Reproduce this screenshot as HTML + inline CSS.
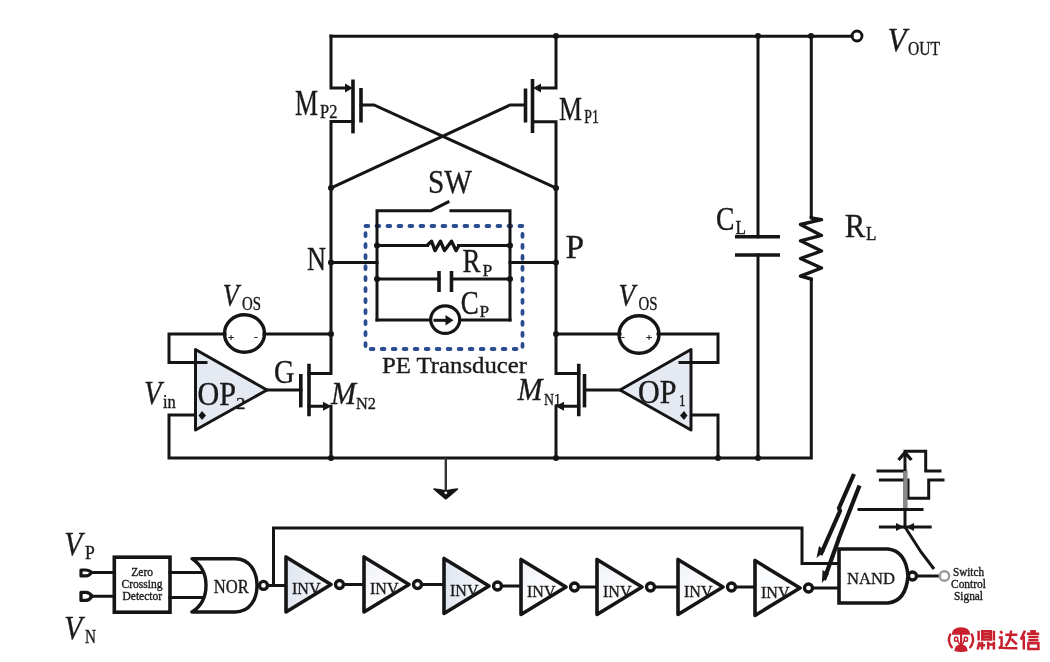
<!DOCTYPE html>
<html><head><meta charset="utf-8">
<style>
html,body{margin:0;padding:0;background:#fff;width:1050px;height:662px;overflow:hidden}
svg{display:block;will-change:transform}
text{font-family:"Liberation Serif",serif;fill:#1a1a1a;stroke:#1a1a1a;stroke-width:0.35}
.w{fill:none;stroke:#151515;stroke-width:3;stroke-linejoin:miter;stroke-linecap:square}
.t{fill:none;stroke:#151515;stroke-width:3.6;stroke-linecap:butt}
.d{fill:#151515}
.it{font-style:italic}
</style></head><body>
<svg width="1050" height="662" viewBox="0 0 1050 662">
<defs><linearGradient id="ig" x1="0" y1="0" x2="1" y2="0"><stop offset="0" stop-color="#dfe5f0"/><stop offset="0.6" stop-color="#eef1f7"/><stop offset="1" stop-color="#fafbfd"/></linearGradient><linearGradient id="ig2" x1="0" y1="0" x2="1" y2="1"><stop offset="0" stop-color="#eef1f7"/><stop offset="0.5" stop-color="#fcfcfd"/><stop offset="1" stop-color="#ffffff"/></linearGradient></defs>
<rect width="1050" height="662" fill="#fff"/>
<!-- ===== top wires ===== -->
<path class="w" d="M331,36.3 H852"/>
<circle cx="857" cy="36" r="5" fill="none" stroke="#151515" stroke-width="2.8"/>
<!-- MP2 -->
<path class="w" d="M331,36 V88 H346"/>
<path class="d" d="M353,88 L345,83.5 L345,92.5 Z"/>
<path class="t" d="M353,79.5 V133.4"/>
<path class="t" d="M361,88 V122.5"/>
<path class="w" d="M361,105 H374 L556,188"/>
<path class="w" d="M353,121.5 H331 V373.5 H309"/>
<!-- MP1 -->
<path class="w" d="M556,36 V88 H540"/>
<path class="d" d="M533,88 L541,83.5 L541,92.5 Z"/>
<path class="t" d="M532.5,79 V133"/>
<path class="t" d="M525.5,88.5 V122.5"/>
<path class="w" d="M525.5,105 H510 L331,188"/>
<path class="w" d="M532.5,121.7 H556 V373.5 H578.75"/>
<!-- dashed box -->
<rect x="365.5" y="226" width="157" height="123" fill="none" stroke="#2a4d92" stroke-width="3.8" stroke-linecap="round" stroke-dasharray="2.8 8.2"/>
<!-- N/P node wires -->
<path class="w" d="M331,262.5 H377"/>
<path class="w" d="M510,262.5 H556"/>
<!-- PE network -->
<path class="w" d="M377,320 V210.7 H431 L448,202"/>
<path class="w" d="M451,210.7 H510 V320"/>
<path class="w" d="M377,245.5 H427.5 M458.5,245.5 H510"/>
<path d="M427,245.5 L431.5,241.2 L435,250.6 L440.5,241.2 L444.5,250.6 L451.5,241.2 L456,250.6 L459,245.5" fill="none" stroke="#151515" stroke-width="3.4" stroke-linejoin="round"/>
<path class="w" d="M377,279 H439 M451.5,279 H510"/>
<path class="t" d="M439,271 V292 M451.5,271 V292"/>
<path class="w" d="M377,320 H430 M460,320 H510"/>
<ellipse cx="445.2" cy="319.6" rx="14.5" ry="13.8" fill="none" stroke="#151515" stroke-width="3.2"/>
<path class="w" d="M435,320.3 H447"/>
<path class="d" d="M453.5,320.3 L445.5,315 L445.5,325.5 Z"/>
<!-- load -->
<path class="w" d="M758,36 V236.7 M758,255 V458"/>
<path class="t" d="M735,236.7 H780 M735,255 H780"/>
<path class="w" d="M811.3,36 V217 M811.3,279.6 V458 H169 V415 H202"/>
<path d="M811.3,216 V218 L821.5,219.7 L800.5,224.5 L821.5,235.4 L800.5,240.8 L821.5,251 L800.5,258.5 L821.5,268 L800.5,276.2 L811.3,279 V281" fill="none" stroke="#151515" stroke-width="3.4" stroke-linejoin="round"/>
<!-- OP2 side -->
<path class="w" d="M331,334 H264 M225,334 H169 V362.5 H195"/>
<ellipse cx="244.5" cy="333.5" rx="20" ry="18.8" fill="none" stroke="#151515" stroke-width="3.4"/>
<path d="M195.5,349.5 L195.5,430 L267,390 Z" fill="#e4e9f2" stroke="#151515" stroke-width="3" stroke-linejoin="round"/>
<path class="w" d="M195,362.5 H206"/>
<path class="w" d="M267,390 H301"/>
<path class="t" d="M300.8,374 V407.4"/>
<path class="t" d="M309,363.75 V416.25"/>
<path class="w" d="M309,406.3 H325 M331,406.3 V458"/>
<path class="d" d="M331.5,406.3 L323,401.8 L323,410.8 Z"/>
<!-- OP1 side -->
<path class="w" d="M556,334 H620 M658,334 H718 V362.5 H691 M718,458 V415 H684"/>
<ellipse cx="639" cy="334.5" rx="20" ry="18.8" fill="none" stroke="#151515" stroke-width="3.4"/>
<path d="M691,349.5 L691,430 L620,390 Z" fill="#e4e9f2" stroke="#151515" stroke-width="3" stroke-linejoin="round"/>
<path class="w" d="M691,362.5 H680"/>
<path class="w" d="M620,390 H585"/>
<path class="t" d="M584.5,374 V407.4"/>
<path class="t" d="M578.75,363.75 V416.25"/>
<path class="w" d="M578.75,406.3 H562 M556,406.3 V458"/>
<path class="d" d="M555.5,406.3 L564,401.8 L564,410.8 Z"/>
<!-- ground -->
<path d="M445.8,458 V491" fill="none" stroke="#333" stroke-width="2.4"/>
<path d="M434,489 Q440,489.5 445.8,491 Q451.5,489.5 457.5,489 Q452,494 445.8,498.8 Q439.5,494 434,489 Z" fill="#151515" stroke="#151515" stroke-width="1.6" stroke-linejoin="round"/>
<circle cx="445.8" cy="492.8" r="1.4" fill="#fff"/>
<!-- dots -->
<g class="d">
<circle cx="556" cy="36" r="3"/><circle cx="758" cy="36" r="3"/><circle cx="811" cy="36" r="3"/>
<circle cx="331" cy="188" r="3"/><circle cx="556" cy="188" r="3"/>
<circle cx="331" cy="262.5" r="3"/><circle cx="556" cy="262.5" r="3"/>
<circle cx="377" cy="245.5" r="3"/><circle cx="510" cy="245.5" r="3"/>
<circle cx="377" cy="279" r="3"/><circle cx="510" cy="279" r="3"/>
<circle cx="331" cy="334" r="3"/><circle cx="556" cy="334" r="3"/>
<circle cx="331" cy="458" r="3"/><circle cx="556" cy="458" r="3"/><circle cx="718" cy="458" r="3"/><circle cx="758" cy="458" r="3"/>
<path d="M202,411 L206,415.5 L202,420 L198.5,415.5 Z"/><path d="M684,411 L687.5,415.5 L684,420 L680,415.5 Z"/>
</g>
<!-- ===== labels ===== -->
<text x="295" y="114.7" font-size="35" textLength="23" lengthAdjust="spacingAndGlyphs">M</text>
<text x="320" y="118.4" font-size="19" textLength="17.4" lengthAdjust="spacingAndGlyphs">P2</text>
<text x="559" y="119.7" font-size="34" textLength="23" lengthAdjust="spacingAndGlyphs">M</text>
<text x="584.3" y="123" font-size="18.5" textLength="14.5" lengthAdjust="spacingAndGlyphs">P1</text>
<text class="it" x="887.5" y="50.6" font-size="33" textLength="19" lengthAdjust="spacingAndGlyphs">V</text>
<text x="908" y="54.7" font-size="18.5" textLength="32" lengthAdjust="spacingAndGlyphs">OUT</text>
<text x="428" y="193" font-size="33" textLength="44" lengthAdjust="spacingAndGlyphs">SW</text>
<text x="307" y="269.7" font-size="33" textLength="19" lengthAdjust="spacingAndGlyphs">N</text>
<text x="565.5" y="258" font-size="33.5" textLength="18.5" lengthAdjust="spacingAndGlyphs">P</text>
<text x="462.4" y="272.2" font-size="33.5" textLength="18" lengthAdjust="spacingAndGlyphs">R</text>
<text x="482.6" y="276.2" font-size="17" textLength="9.8" lengthAdjust="spacingAndGlyphs">P</text>
<text x="460.7" y="313.6" font-size="34" textLength="18" lengthAdjust="spacingAndGlyphs">C</text>
<text x="479.4" y="317" font-size="17.5" textLength="9.6" lengthAdjust="spacingAndGlyphs">P</text>
<text x="382" y="373" font-size="24" textLength="145" lengthAdjust="spacingAndGlyphs">PE Transducer</text>
<text x="716" y="229.6" font-size="34" textLength="18.5" lengthAdjust="spacingAndGlyphs">C</text>
<text x="735.5" y="233.5" font-size="19" textLength="10.5" lengthAdjust="spacingAndGlyphs">L</text>
<text x="844.8" y="236.7" font-size="34" textLength="20.5" lengthAdjust="spacingAndGlyphs">R</text>
<text x="866" y="240.3" font-size="18" textLength="10.5" lengthAdjust="spacingAndGlyphs">L</text>
<text class="it" x="222.8" y="306" font-size="32" textLength="16" lengthAdjust="spacingAndGlyphs">V</text>
<text x="242" y="309.6" font-size="18" textLength="19" lengthAdjust="spacingAndGlyphs">OS</text>
<text class="it" x="618.5" y="306" font-size="32" textLength="16.5" lengthAdjust="spacingAndGlyphs">V</text>
<text x="638.5" y="309.6" font-size="18" textLength="19" lengthAdjust="spacingAndGlyphs">OS</text>
<text x="228" y="341" font-size="11">+</text>
<text x="254" y="340" font-size="11">-</text>
<text x="621" y="340" font-size="11">-</text>
<text x="646" y="341" font-size="11">+</text>
<text x="274" y="383.4" font-size="33.5" textLength="20.5" lengthAdjust="spacingAndGlyphs">G</text>
<text class="it" x="331" y="403.75" font-size="32" textLength="25" lengthAdjust="spacingAndGlyphs">M</text>
<text x="356" y="408.5" font-size="17.5" textLength="20" lengthAdjust="spacingAndGlyphs">N2</text>
<text class="it" x="517.5" y="400" font-size="32" textLength="25" lengthAdjust="spacingAndGlyphs">M</text>
<text x="544" y="405" font-size="17" textLength="17" lengthAdjust="spacingAndGlyphs">N1</text>
<text class="it" x="144" y="404.3" font-size="33.5" textLength="17.5" lengthAdjust="spacingAndGlyphs">V</text>
<text x="163" y="407.7" font-size="18" textLength="12.8" lengthAdjust="spacingAndGlyphs">in</text>
<text x="197.5" y="405.4" font-size="34" textLength="38.5" lengthAdjust="spacingAndGlyphs">OP</text>
<text x="236" y="409.4" font-size="17" textLength="9.5" lengthAdjust="spacingAndGlyphs">2</text>
<text x="638" y="402.5" font-size="34" textLength="38.5" lengthAdjust="spacingAndGlyphs">OP</text>
<text x="679" y="406.25" font-size="17" textLength="6.5" lengthAdjust="spacingAndGlyphs">1</text>
<!-- ===== bottom chain ===== -->
<text class="it" x="64.3" y="555.2" font-size="33" textLength="18" lengthAdjust="spacingAndGlyphs">V</text>
<text x="85" y="559" font-size="19" textLength="9.8" lengthAdjust="spacingAndGlyphs">P</text>
<text class="it" x="64.3" y="639.2" font-size="33" textLength="18" lengthAdjust="spacingAndGlyphs">V</text>
<text x="85" y="643" font-size="19" textLength="11" lengthAdjust="spacingAndGlyphs">N</text>
<path d="M81,570 H86 Q89,570 91.5,572.3 Q89,575.9 86,575.9 H81 Z" fill="none" stroke="#151515" stroke-width="3.2" stroke-linejoin="round"/>
<path d="M81,592.4 H86 Q89.5,592.4 92,596.2 Q89.5,600.4 86,600.4 H81 Z" fill="none" stroke="#151515" stroke-width="3.3" stroke-linejoin="round"/>
<path class="w" d="M91,572.5 H114 M91,596.3 H114 M170,572.4 H204 M170,597.5 H204"/>
<rect x="114.3" y="557.2" width="55.7" height="55" fill="none" stroke="#151515" stroke-width="3.6"/>
<text x="142.2" y="576.3" font-size="11.8" text-anchor="middle" textLength="21.7" lengthAdjust="spacingAndGlyphs">Zero</text>
<text x="142" y="588.2" font-size="11.8" text-anchor="middle" textLength="41" lengthAdjust="spacingAndGlyphs">Crossing</text>
<text x="142.3" y="600.1" font-size="11.8" text-anchor="middle" textLength="39.7" lengthAdjust="spacingAndGlyphs">Detector</text>
<path d="M192,558.7 C203,566 206,576 206,585.4 C206,595 203,605 192,612 H235.3 C250,612 257,599 257,585.4 C257,572 250,558.7 235.3,558.7 Z" fill="#fff" stroke="#151515" stroke-width="3.4" stroke-linejoin="round"/>
<circle cx="263.5" cy="585.4" r="4" fill="#fff" stroke="#151515" stroke-width="3.3"/>
<text x="213.7" y="593.3" font-size="18.5" textLength="35" lengthAdjust="spacingAndGlyphs">NOR</text>
<path class="w" d="M268,585.4 H286 M273.5,585.4 V528 H802 V563.5 H839"/>
<path d="M286,557.0 L286,612.0 L331,584.5 Z" fill="url(#ig)" stroke="#151515" stroke-width="3.6" stroke-linejoin="round"/>
<circle cx="339.5" cy="584.5" r="4" fill="#fff" stroke="#151515" stroke-width="3.3"/>
<path class="w" d="M344,584.5 H364"/>
<text x="292" y="594.0" font-size="17" textLength="28.5" lengthAdjust="spacingAndGlyphs">INV</text>
<path d="M364,557.0 L364,612.0 L409,584.5 Z" fill="url(#ig2)" stroke="#151515" stroke-width="3.6" stroke-linejoin="round"/>
<circle cx="417.5" cy="584.5" r="4" fill="#fff" stroke="#151515" stroke-width="3.3"/>
<path class="w" d="M422,584.5 H444"/>
<text x="370" y="594.0" font-size="17" textLength="28.5" lengthAdjust="spacingAndGlyphs">INV</text>
<path d="M444,558.5 L444,613.5 L489,586 Z" fill="url(#ig)" stroke="#151515" stroke-width="3.6" stroke-linejoin="round"/>
<circle cx="497.5" cy="586" r="4" fill="#fff" stroke="#151515" stroke-width="3.3"/>
<path class="w" d="M502,586 H521"/>
<text x="450" y="595.5" font-size="17" textLength="28.5" lengthAdjust="spacingAndGlyphs">INV</text>
<path d="M521,559.5 L521,614.5 L566,587 Z" fill="url(#ig2)" stroke="#151515" stroke-width="3.6" stroke-linejoin="round"/>
<circle cx="574.5" cy="587" r="4" fill="#fff" stroke="#151515" stroke-width="3.3"/>
<path class="w" d="M579,587 H597"/>
<text x="527" y="596.5" font-size="17" textLength="28.5" lengthAdjust="spacingAndGlyphs">INV</text>
<path d="M597,559.5 L597,614.5 L642,587 Z" fill="url(#ig2)" stroke="#151515" stroke-width="3.6" stroke-linejoin="round"/>
<circle cx="650.5" cy="587" r="4" fill="#fff" stroke="#151515" stroke-width="3.3"/>
<path class="w" d="M655,587 H678"/>
<text x="603" y="596.5" font-size="17" textLength="28.5" lengthAdjust="spacingAndGlyphs">INV</text>
<path d="M678,559.5 L678,614.5 L723,587 Z" fill="url(#ig2)" stroke="#151515" stroke-width="3.6" stroke-linejoin="round"/>
<circle cx="731.5" cy="587" r="4" fill="#fff" stroke="#151515" stroke-width="3.3"/>
<path class="w" d="M736,587 H755"/>
<text x="684" y="596.5" font-size="17" textLength="28.5" lengthAdjust="spacingAndGlyphs">INV</text>
<path d="M755,560.5 L755,615.5 L800,588 Z" fill="#fbfcfd" stroke="#151515" stroke-width="3.6" stroke-linejoin="round"/>
<circle cx="808.5" cy="588" r="4" fill="#fff" stroke="#151515" stroke-width="3.3"/>
<path class="w" d="M813,588 H839"/>
<text x="761" y="597.5" font-size="17" textLength="28.5" lengthAdjust="spacingAndGlyphs">INV</text>
<!-- NAND -->
<path d="M839,549 H888 Q906,551 908,576 Q906,601 888,603 H839 Z" fill="#fff" stroke="#151515" stroke-width="3.6"/>
<circle cx="912.5" cy="576" r="4" fill="#fff" stroke="#151515" stroke-width="3.3"/>
<path class="w" d="M917,576 H939"/>
<circle cx="944.4" cy="576" r="4.8" fill="none" stroke="#9a9a9a" stroke-width="2.4"/>
<text x="847" y="584.4" font-size="17" textLength="48" lengthAdjust="spacingAndGlyphs">NAND</text>
<text x="968.5" y="575.6" font-size="11.5" text-anchor="middle" textLength="31" lengthAdjust="spacingAndGlyphs">Switch</text>
<text x="968.5" y="588" font-size="11.5" text-anchor="middle" textLength="35" lengthAdjust="spacingAndGlyphs">Control</text>
<text x="968.5" y="600" font-size="11.5" text-anchor="middle" textLength="29" lengthAdjust="spacingAndGlyphs">Signal</text>
<!-- odd top-right structure -->
<path d="M854,474 L839,508 L840,511 L820.5,555" fill="none" stroke="#151515" stroke-width="4.2"/>
<path d="M816.5,558 L819,546 L825,551 Z" fill="#151515"/>
<path d="M859.5,485.5 L839,538 L838,541 L824,580" fill="none" stroke="#151515" stroke-width="4.2"/>
<path d="M822,583 L822.5,570 L829,574 Z" fill="#151515"/>
<path class="w" d="M905,527 V455"/>
<path d="M898.5,460 L905,452.5 L911.4,460" fill="none" stroke="#151515" stroke-width="3.4"/>
<path class="w" d="M905,451.3 H925.7 V471 H940"/>
<path class="w" d="M943,480 H928.7 V498.2 H908 V480"/>
<path class="w" d="M878,471 H905 M880.4,480 H905"/>
<path d="M905.5,471 V510" stroke="#8a8a8a" stroke-width="4.2" fill="none"/>
<path class="w" d="M859,509.5 H922"/>
<path class="w" d="M880.4,527 H930.2"/>
<path d="M904,527 L896,523 L896,531 Z M906,527 L914,523 L914,531 Z" fill="#151515"/>
<path d="M905,527 L921,552 L934,569" fill="none" stroke="#151515" stroke-width="3"/>
<!-- logo -->
<g fill="#c8202e">
<path d="M951.5,634.8 Q952,627.3 961,627.3 Q970,627.3 970.5,634.8 Z"/>
<path d="M954.3,651 Q955,644.6 961,644.6 Q967,644.6 967.7,651 Q964.5,652 961,652 Q957.5,652 954.3,651 Z"/>
<rect x="960" y="634" width="2.2" height="11"/>
</g>
<g fill="none" stroke="#c8202e" stroke-linecap="round">
<path d="M950.2,634.5 Q947,641 951.8,647.2" stroke-width="2.4"/>
<path d="M971.8,634.5 Q975,641 970.2,647.2" stroke-width="2.4"/>
<path d="M956.5,637 Q954,637.5 954.5,640 Q955,642 957,641 M957.5,637.5 Q958,643 960,644.5" stroke-width="1.5"/>
<path d="M965.5,637 Q968,637.5 967.5,640 Q967,642 965,641 M964.5,637.5 Q964,643 962,644.5" stroke-width="1.5"/>
</g>
<g fill="none" stroke="#c8202e" stroke-width="2.5" stroke-linecap="butt">
<path d="M978.6,630.8 V640.5 M993.9,630.8 V640.5"/>
<path d="M982.3,631.2 H990.8 V639.6 H982.3 Z M982.3,634.1 H990.8 M982.3,636.8 H990.8"/>
<path d="M979.5,642 L977.6,649.5 M982,641.8 V649.6 M977.6,645.2 H985.2"/>
<path d="M988.2,641.8 V649.6 M993.9,641.8 V649.6 M988.2,644.5 H995.2"/>
<path d="M1000.4,631 L1002.2,633.4"/>
<path d="M998.8,637.6 H1001.6 V645.6 L999,648.8 M1000.5,647.6 Q1003,648.2 1017.4,648.2"/>
<path d="M1005.3,634.8 H1017.3 M1011,630.5 Q1010.8,641 1005.6,646 M1011.2,639 L1016.8,644.4"/>
<path d="M1025,630.6 L1020.8,639.6 M1023.8,636 V649.6"/>
<path d="M1030.2,631.2 H1035.9 M1026.9,633.8 H1039.2 M1028.3,637 H1038.5 M1028.3,640.3 H1038.5 M1028.4,643.2 H1038.4 V649 H1028.4 Z"/>
</g>
</svg>
</body></html>
